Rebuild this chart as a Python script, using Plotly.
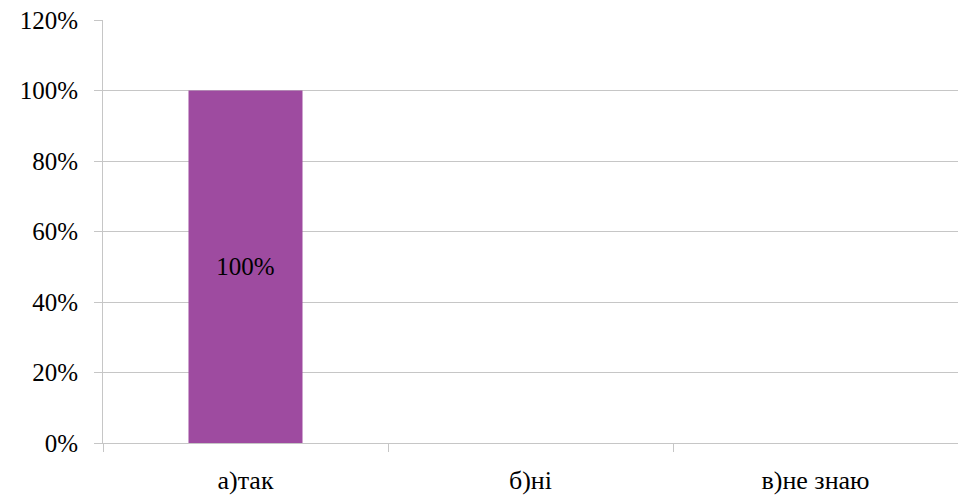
import plotly.graph_objects as go

categories = ["а)так", "б)ні", "в)не знаю"]
values = [1.0, 0, 0]
bar_labels = ["100%", "", ""]
tick_vals = [0, 0.2, 0.4, 0.6, 0.8, 1.0, 1.2]
tick_text = ["0%", "20%", "40%", "60%", "80%", "100%", "120%"]

FONT = "Liberation Serif"
GRID = "#c6c6c6"

fig = go.Figure(go.Bar(
    x=categories, y=values, width=0.4,
    marker=dict(color="#9e4ba0", line=dict(width=0)),
    text=bar_labels, textposition="inside", insidetextanchor="middle",
    textangle=0,
    textfont=dict(family=FONT, size=25, color="black"),
    cliponaxis=False,
))

fig.update_layout(
    width=958, height=499,
    margin=dict(l=103, r=0, t=20, b=56, autoexpand=False),
    paper_bgcolor="white", plot_bgcolor="white",
    showlegend=False,
    bargap=0.6,
    font=dict(family=FONT, size=25, color="black"),
    uniformtext=dict(mode="show", minsize=10),
)
fig.update_yaxes(
    range=[0, 1.2], tickvals=tick_vals, ticktext=tick_text,
    showgrid=True, gridcolor=GRID, gridwidth=1,
    showline=True, linecolor=GRID, linewidth=1,
    ticks="outside", ticklen=8, tickcolor=GRID,
    ticklabelstandoff=11,
    tickfont=dict(family=FONT, size=25, color="black"),
    zeroline=False, automargin=False,
)
fig.update_xaxes(
    showline=True, linecolor=GRID, linewidth=1,
    ticks="outside", ticklen=8, tickcolor=GRID,
    tickson="boundaries",
    tickfont=dict(family=FONT, size=26, color="black"),
    ticklabelstandoff=14, automargin=False,
)

fig.write_html(
    "out.html",
    config={"displayModeBar": False},
    post_script="document.body.style.margin='0';document.body.style.overflow='hidden';",
)
